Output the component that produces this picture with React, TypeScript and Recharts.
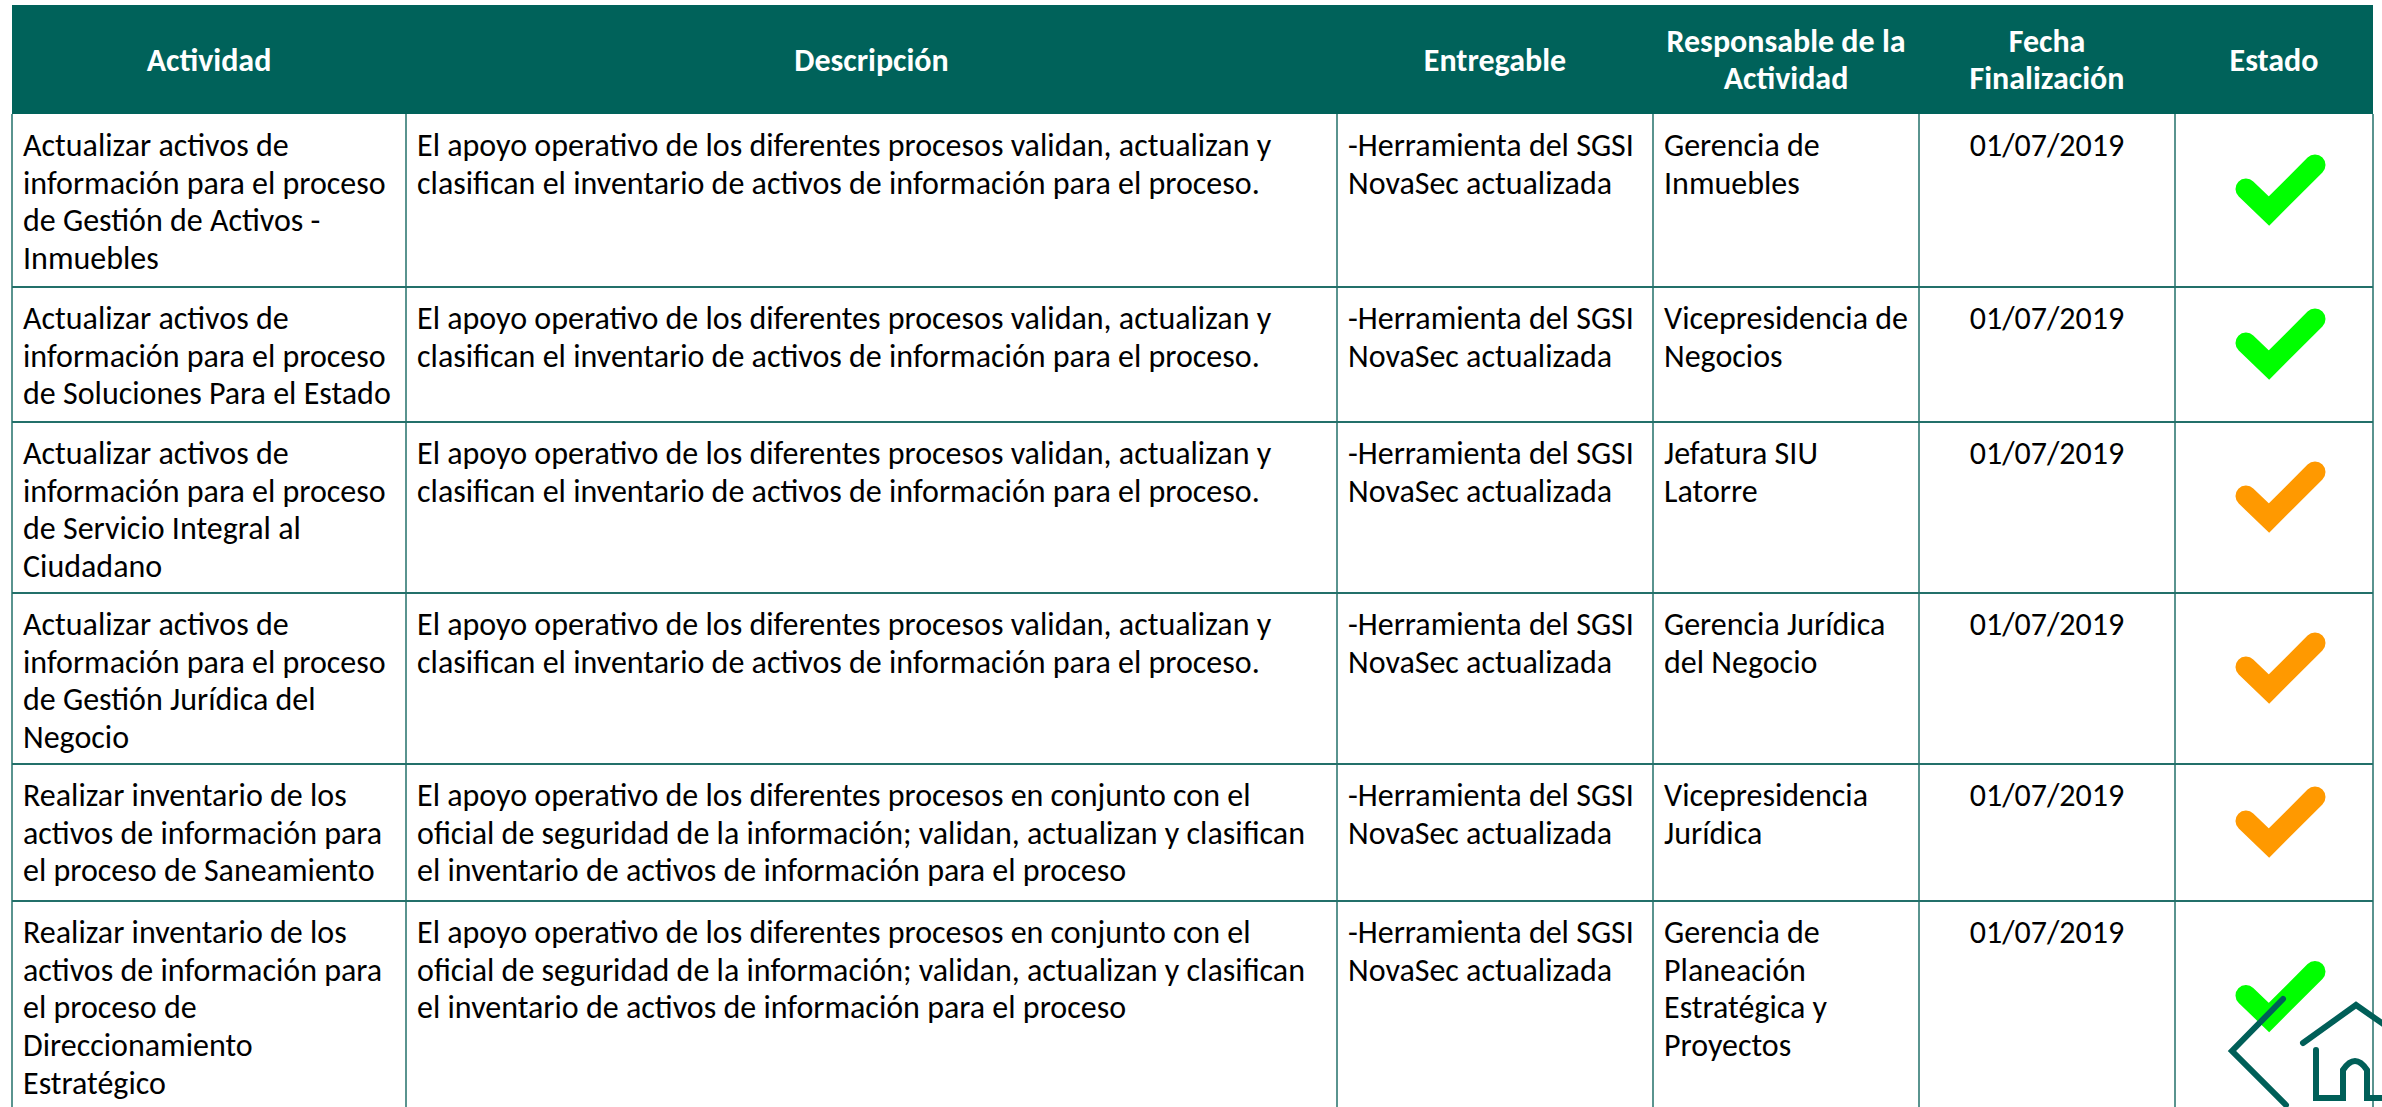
import React from "react";
import { ScatterChart, Scatter, XAxis, YAxis, ReferenceArea, ReferenceLine, ReferenceDot } from "recharts";

const W = 2382;
const H = 1107;

// ---- data ----
const ENCABEZADOS = [
  ["Actividad"],
  ["Descripción"],
  ["Entregable"],
  ["Responsable de la", "Actividad"],
  ["Fecha", "Finalización"],
  ["Estado"],
];

const ACTIVIDADES = [
  ["Actualizar activos de", "información para el proceso", "de Gestión de Activos -", "Inmuebles"],
  ["Actualizar activos de", "información para el proceso", "de Soluciones Para el Estado"],
  ["Actualizar activos de", "información para el proceso", "de Servicio Integral al", "Ciudadano"],
  ["Actualizar activos de", "información para el proceso", "de Gestión Jurídica del", "Negocio"],
  ["Realizar inventario de los", "activos de información para", "el proceso de Saneamiento"],
  ["Realizar inventario de los", "activos de información para", "el proceso de", "Direccionamiento", "Estratégico"],
];

const DESC_A = [
  "El apoyo operativo de los diferentes procesos validan, actualizan y",
  "clasifican el inventario de activos de información para el proceso.",
];
const DESC_B = [
  "El apoyo operativo de los diferentes procesos en conjunto con el",
  "oficial de seguridad de la información; validan, actualizan y clasifican",
  "el inventario de activos de información para el proceso",
];
const DESCRIPCIONES = [DESC_A, DESC_A, DESC_A, DESC_A, DESC_B, DESC_B];

const ENTREGABLES = Array.from({ length: 6 }, () => ["-Herramienta del SGSI", "NovaSec actualizada"]);

const RESPONSABLES = [
  ["Gerencia de", "Inmuebles"],
  ["Vicepresidencia de", "Negocios"],
  ["Jefatura SIU", "Latorre"],
  ["Gerencia Jurídica", "del Negocio"],
  ["Vicepresidencia", "Jurídica"],
  ["Gerencia de", "Planeación", "Estratégica y", "Proyectos"],
];

const FECHAS = ["01/07/2019", "01/07/2019", "01/07/2019", "01/07/2019", "01/07/2019", "01/07/2019"];

const ESTADOS = ["ok", "ok", "proceso", "proceso", "proceso", "ok"];

// ---- layout ----
const COL_EDGES = [12, 406, 1337, 1653, 1919, 2175, 2373];
const ROW_EDGES = [5, 114, 287, 422, 593, 764, 901, 1120];
const ALIGN = ["start", "start", "start", "start", "middle", "middle"];
const FONT = "Carlito, Calibri, Lato, sans-serif";
const FS = 32;
const LINE_H = 37.7;
const TEAL = "#00625A";
const GRID = "#23706a";
const ESTADO_COLOR: Record<string, string> = { ok: "#00FF00", proceso: "#FF9900" };

const colCenter = (c: number) => (COL_EDGES[c] + COL_EDGES[c + 1]) / 2;

const headerCells = ENCABEZADOS.map((lines, c) => ({
  x: colCenter(c),
  y: (ROW_EDGES[0] + ROW_EDGES[1]) / 2 + 11 - ((lines.length - 1) * LINE_H) / 2,
  lines,
}));

const bodyCells = ACTIVIDADES.flatMap((act, r) => {
  const cols = [act, DESCRIPCIONES[r], ENTREGABLES[r], RESPONSABLES[r], [FECHAS[r]]];
  return cols.map((lines, c) => ({
    x: ALIGN[c] === "middle" ? colCenter(c) : COL_EDGES[c] + 11,
    y: ROW_EDGES[r + 1] + 42,
    lines,
    anchor: ALIGN[c],
  }));
});

const checks = ESTADOS.map((estado, r) => ({
  x: colCenter(5),
  y: Math.min((ROW_EDGES[r + 1] + ROW_EDGES[r + 2]) / 2, H - 100) - 6,
  estado,
}));

function HeaderText(props: any) {
  const { cx, cy, payload } = props;
  return (
    <text x={cx} y={cy} textAnchor="middle" fill="#fff" fontFamily={FONT} fontSize={FS} fontWeight={700}>
      {payload.lines.map((l: string, i: number) => (
        <tspan key={i} x={cx} y={cy + i * LINE_H}>
          {l}
        </tspan>
      ))}
    </text>
  );
}

function BodyText(props: any) {
  const { cx, cy, payload } = props;
  return (
    <text x={cx} y={cy} textAnchor={payload.anchor} fill="#000" fontFamily={FONT} fontSize={FS}>
      {payload.lines.map((l: string, i: number) => (
        <tspan key={i} x={cx} y={cy + i * LINE_H}>
          {l}
        </tspan>
      ))}
    </text>
  );
}

function Check(props: any) {
  const { cx, cy, payload } = props;
  return (
    <path
      d={`M${cx - 28} ${cy - 5.5} L${cx - 5} ${cy + 16.5} L${cx + 41} ${cy - 29.5}`}
      fill="none"
      stroke={ESTADO_COLOR[payload.estado]}
      strokeWidth={21}
      strokeLinecap="round"
      strokeLinejoin="miter"
    />
  );
}

function Logo(props: any) {
  const { cx, cy } = props;
  const s = { fill: "none", stroke: "#005F58", strokeWidth: 6, strokeLinecap: "round" as const, strokeLinejoin: "miter" as const };
  return (
    <g>
      <path d={`M${cx - 33} ${cy - 99} L${cx - 84} ${cy - 47} L${cx - 30} ${cy + 7}`} {...s} />
      <path d={`M${cx - 13} ${cy - 55} L${cx + 40} ${cy - 93} L${cx + 70} ${cy - 72}`} {...s} />
      <path
        d={`M${cx} ${cy - 48} L${cx} ${cy} L${cx + 27} ${cy} L${cx + 27} ${cy - 28} Q${cx + 39} ${cy - 46} ${cx + 51} ${cy - 28} L${cx + 51} ${cy} L${cx + 70} ${cy}`}
        {...s}
      />
    </g>
  );
}

export default function App() {
  return (
    <div style={{ position: "fixed", left: 0, top: 0, width: W, height: H, overflow: "hidden", background: "#fff" }}>
      <ScatterChart width={W} height={H} margin={{ top: 0, right: 0, bottom: 0, left: 0 }}>
        <XAxis type="number" dataKey="x" domain={[0, W]} hide allowDataOverflow />
        <YAxis type="number" dataKey="y" domain={[0, H]} reversed hide allowDataOverflow />
        <ReferenceArea
          x1={COL_EDGES[0]}
          x2={COL_EDGES[COL_EDGES.length - 1]}
          y1={ROW_EDGES[0]}
          y2={ROW_EDGES[1]}
          fill={TEAL}
          fillOpacity={1}
          stroke="none"
        />
        {ROW_EDGES.slice(2)
          .filter((y) => y < H)
          .map((y) => (
            <ReferenceLine
              key={"r" + y}
              segment={[
                { x: COL_EDGES[0], y },
                { x: COL_EDGES[COL_EDGES.length - 1], y },
              ]}
              stroke={GRID}
              strokeWidth={2}
            />
          ))}
        {COL_EDGES.map((x) => (
          <ReferenceLine
            key={"c" + x}
            segment={[
              { x, y: ROW_EDGES[1] },
              { x, y: H },
            ]}
            stroke={GRID}
            strokeWidth={1.5}
          />
        ))}
        <Scatter data={headerCells} shape={HeaderText} isAnimationActive={false} />
        <Scatter data={bodyCells} shape={BodyText} isAnimationActive={false} />
        <Scatter data={checks} shape={Check} isAnimationActive={false} />
        <ReferenceDot x={2316} y={1098} r={1} shape={Logo} />
      </ScatterChart>
    </div>
  );
}
